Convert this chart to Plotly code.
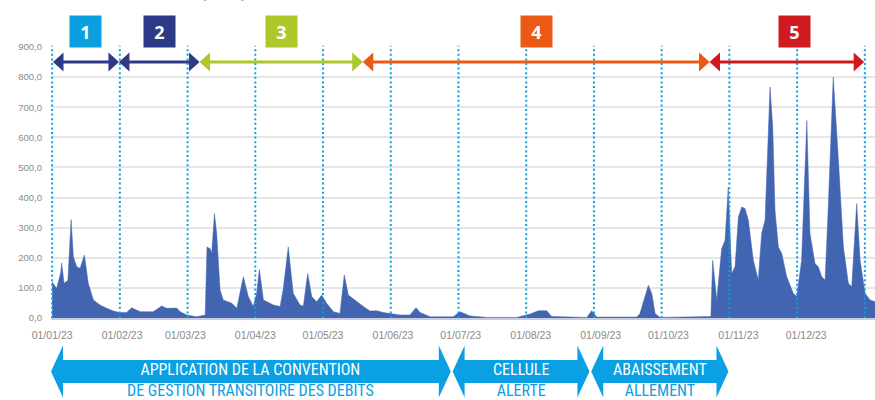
import pandas as pd
import plotly.graph_objects as go

# ---------------- data ----------------
YEAR_START = "2023-01-01"
DAY_OFFSETS = [0, 2, 3.8, 4.2, 5.3, 7, 8.4, 9.4, 10.9, 12.4,
               14.3, 16, 18.3, 21.2, 24.2, 27.1, 30, 33, 35.2, 39,
               44.8, 48.5, 50.8, 55.2, 56.7, 59.6, 64, 67.8, 68.6, 70,
               70.7, 71.9, 72.9, 74.4, 75.8, 79.6, 81.8, 84.7, 86.9, 89.1,
               90.6, 91.8, 93.6, 98, 101, 102.4, 104.6, 106.8, 109.8, 111.3,
               113.2, 115, 117.2, 119.4, 121.6, 124.6, 127.5, 129.4, 131.2, 134.9,
               137.9, 140.8, 143.8, 146.7, 149.7, 154.1, 158.5, 161.2, 163, 167.4,
               171.8, 177.7, 180.7, 185.1, 192.5, 205.8, 211.7, 215.4, 219.1, 221.3,
               236.8, 239, 241.2, 259, 260.4, 264.1, 265.6, 267.1, 269.3, 291.8,
               292.6, 294.4, 296.6, 298.1, 299.5, 301, 302.5, 304, 305.5, 306.9,
               308.4, 310.6, 312.8, 314.3, 315.8, 318, 319.2, 320.2, 321.7, 323.2,
               325.4, 328.3, 329.8, 332, 334.3, 335.7, 337.9, 339.4, 340.9, 342.4,
               343.8, 346, 348.3, 350.5, 352.7, 354.2, 356.4, 357.9, 360.1, 362.3, 364.5]
FLOW = [120, 98, 150, 183, 115, 125, 327, 203, 170, 165,
        209, 115, 60, 43, 32, 23, 18, 18, 34, 21,
        21, 40, 32, 33, 21, 10, 4, 10, 236, 230,
        215, 347, 280, 93, 60, 49, 32, 137, 71, 38,
        82, 161, 60, 43, 38, 98, 236, 82, 43, 40,
        148, 71, 54, 76, 49, 21, 15, 143, 76, 54,
        38, 23, 24, 18, 15, 10, 10, 34, 18, 4,
        4, 4, 21, 7, 2, 2, 13, 24, 24, 5,
        2, 24, 3, 3, 15, 109, 82, 15, 2, 5,
        192, 60, 231, 258, 435, 148, 170, 336, 369, 364,
        325, 192, 126, 281, 325, 767, 634, 358, 236, 214,
        137, 82, 71, 192, 656, 281, 181, 170, 137, 126,
        369, 800, 524, 236, 115, 104, 380, 192, 82, 60, 54]
Y_TICKS = [0, 100, 200, 300, 400, 500, 600, 700, 800, 900]

PHASE_LABELS = ["1", "2", "3", "4", "5"]
PHASE_BOUNDS_DAYS = [0.4, 29.6, 65.3, 137.6, 291.2, 359.7]
PHASE_LABEL_DAYS = [15, 47.5, 101.5, 214.5, 328.8]
MARKER_LINE_DAYS = [0, 30, 60, 90, 120, 150, 180, 210, 240, 270, 300, 330, 360]

BANNER_TOP = ["APPLICATION DE LA CONVENTION", "CELLULE", "ABAISSEMENT"]
BANNER_BOTTOM = ["DE GESTION TRANSITOIRE DES DÉBITS", "ALERTE", "ALLEMENT"]
BANNER_SPANS_DAYS = [(-0.5, 176.6), (177.4, 238.0), (238.8, 299.6)]

TITLE = "Débits entrants naturels (m³/s) sur l'Ain et affluents en amont d'Allement"

# ---------------- styles ----------------
BOX_COLORS = ["#0aa0e0", "#2d3a87", "#aec82c", "#ea5a14", "#d11a1f"]
ARROW_COLORS = ["#2d3a87", "#2d3a87", "#aec82c", "#ea5a14", "#d11a1f"]
FILL = "#4165b0"
CYAN = "#0aa0e3"
BANNER_FONT = "Roboto Condensed, Liberation Sans Narrow, DejaVu Sans Condensed, Roboto"

W, H = 875, 400
ML, MR, MT, MB = 51, 0, 47, 82
PLOT_W = W - ML - MR
PLOT_H = H - MT - MB
X_RANGE = ["2022-12-31 12:00", "2023-12-31 12:00"]
PX_PER_DAY = PLOT_W / 365.0

t0 = pd.Timestamp(YEAR_START)


def d2s(d, sep=" "):
    return (t0 + pd.Timedelta(days=d)).strftime("%Y-%m-%d" + sep + "%H:%M:%S")


def ypaper(px):
    return (H - MB - px) / PLOT_H


dates = [t0 + pd.Timedelta(days=d) for d in DAY_OFFSETS]

fig = go.Figure()
fig.add_trace(go.Scatter(x=dates, y=FLOW, mode="lines", fill="tozeroy",
                         fillcolor=FILL, line=dict(color=FILL, width=0.5),
                         hoverinfo="skip", showlegend=False))

shapes = []
annotations = []

# dotted vertical markers
for d in MARKER_LINE_DAYS:
    shapes.append(dict(type="line", xref="x", yref="paper", x0=d2s(d), x1=d2s(d),
                       y0=0, y1=1.005, layer="above",
                       line=dict(color=CYAN, width=2, dash="2px,2.6px")))

# phase arrows
arrow_y = ypaper(62)
for i in range(5):
    a, b = PHASE_BOUNDS_DAYS[i], PHASE_BOUNDS_DAYS[i + 1]
    c = ARROW_COLORS[i]
    shapes.append(dict(type="line", xref="x", yref="paper", x0=d2s(a + 3), x1=d2s(b - 3),
                       y0=arrow_y, y1=arrow_y, layer="above", line=dict(color=c, width=3)))
    shapes.append(dict(type="path", xref="x", yref="paper", xsizemode="pixel", ysizemode="pixel",
                       xanchor=d2s(a), yanchor=arrow_y, path="M0,0 L10.5,9.5 L10.5,-9.5 Z",
                       fillcolor=c, line=dict(width=0), layer="above"))
    shapes.append(dict(type="path", xref="x", yref="paper", xsizemode="pixel", ysizemode="pixel",
                       xanchor=d2s(b), yanchor=arrow_y, path="M0,0 L-10.5,9.5 L-10.5,-9.5 Z",
                       fillcolor=c, line=dict(width=0), layer="above"))
    annotations.append(dict(x=d2s(PHASE_LABEL_DAYS[i]), y=ypaper(31.5), xref="x", yref="paper",
                            text="<b>" + PHASE_LABELS[i] + "</b>", showarrow=False,
                            bgcolor=BOX_COLORS[i], width=29, height=29, borderpad=1,
                            xanchor="center", yanchor="middle", valign="middle",
                            font=dict(family="Open Sans, Roboto, sans-serif", size=18, color="white")))

# bottom banners
bn_y = ypaper(371.5)
head_days = 12 / PX_PER_DAY
for (a, b), top, bot in zip(BANNER_SPANS_DAYS, BANNER_TOP, BANNER_BOTTOM):
    L, Lh, Rh, R = d2s(a, "_"), d2s(a + head_days, "_"), d2s(b - head_days, "_"), d2s(b, "_")
    path = (f"M{L},0 L{Lh},26 L{Lh},11.5 L{Rh},11.5 L{Rh},26 L{R},0 "
            f"L{Rh},-26 L{Rh},-11.5 L{Lh},-11.5 L{Lh},-26 Z")
    shapes.append(dict(type="path", xref="x", yref="paper", ysizemode="pixel", yanchor=bn_y,
                       path=path, fillcolor=CYAN, line=dict(width=0), layer="above"))
    mid = (a + b) / 2
    annotations.append(dict(x=d2s(mid), y=ypaper(379.5), xref="x", yref="paper",
                            text=f"{top}<br><span style='color:{CYAN}'>{bot}</span>",
                            showarrow=False, xanchor="center", yanchor="middle",
                            font=dict(family=BANNER_FONT, size=16, color="white")))

# partially visible title at the very top
annotations.append(dict(x=(12 - ML) / PLOT_W, y=ypaper(-8.5), xref="paper", yref="paper",
                        text="<b>" + TITLE + "</b>", showarrow=False, xanchor="left", yanchor="middle",
                        font=dict(family="Open Sans, sans-serif", size=15, color="#3b3f8e")))

fig.update_layout(
    width=W, height=H,
    margin=dict(l=ML, r=MR, t=MT, b=MB, autoexpand=False),
    paper_bgcolor="white", plot_bgcolor="white",
    separators=", ",
    showlegend=False,
    shapes=shapes,
    annotations=annotations,
    xaxis=dict(type="date", range=X_RANGE, tickformat="%d/%m/%y", dtick="M1",
               tick0=YEAR_START, showgrid=False, showline=True, linecolor="#c9cce0",
               linewidth=1.5, ticks="", ticklabelstandoff=7, automargin=False,
               tickfont=dict(family="Liberation Sans, Arial, sans-serif", size=10.5, color="#8a8a8a")),
    yaxis=dict(range=[0, 900], tickvals=Y_TICKS, tickformat=".1f", showgrid=True,
               gridcolor="#e6e6e6", gridwidth=1.5, zeroline=False, ticks="",
               ticklabelstandoff=8, automargin=False,
               tickfont=dict(family="Liberation Sans, Arial, sans-serif", size=9.5, color="#8a8a8a")),
)

fig.write_html("out.html", config={"displayModeBar": False},
               post_script="document.body.style.margin='0';document.body.style.overflow='hidden';")
